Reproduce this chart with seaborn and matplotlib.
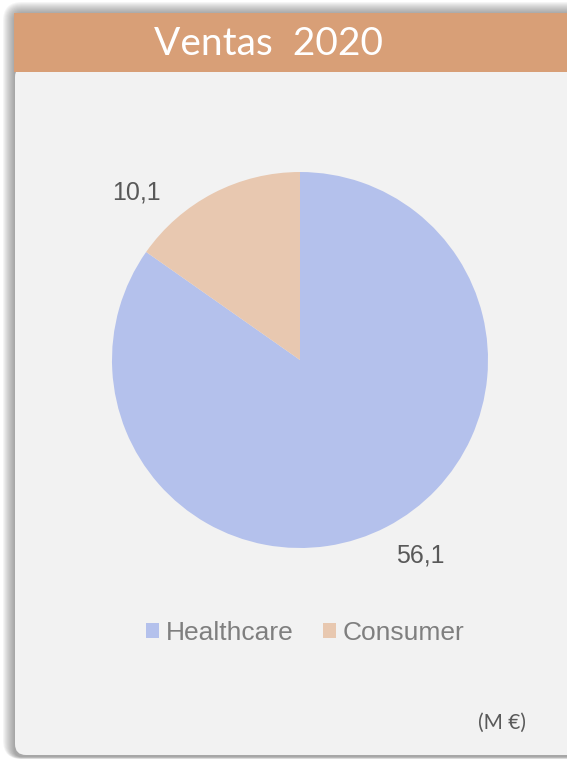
import matplotlib.pyplot as plt
import seaborn as sns
from matplotlib.patches import FancyBboxPatch, Rectangle

categories = ["Healthcare", "Consumer"]
values = [56.1, 10.1]
value_labels = ["56,1", "10,1"]
title = "Ventas  2020"
unit_note = "(M \u20ac)"

sns.set_theme(style="white")
plt.rcParams['font.family'] = ['Liberation Sans', 'DejaVu Sans']
colors = sns.color_palette(["#B4C1EC", "#E8C8B0"])

W, H = 567, 759
fig = plt.figure(figsize=(W / 100, H / 100), dpi=100)
fig.patch.set_facecolor("white")

# background canvas in pixel units
bg = fig.add_axes([0, 0, 1, 1])
bg.set_xlim(0, W)
bg.set_ylim(H, 0)
bg.axis("off")

# soft shadow round the card
for i in range(12):
    bg.add_patch(FancyBboxPatch((14 - i, 13 - i), 620, 744 + 1.2 * i,
                                boxstyle="round,pad=0,rounding_size=%d" % (8 + i),
                                facecolor="#555555", edgecolor="none", alpha=0.055))
bg.add_patch(FancyBboxPatch((15, 66), 620, 689,
                            boxstyle="round,pad=0,rounding_size=11",
                            facecolor="#F2F2F2", edgecolor="none"))
bg.add_patch(Rectangle((14, 13), 600, 59, facecolor="#D89F77", edgecolor="none"))
bg.text(269, 44, title, ha="center", va="center", color="white",
        fontsize=28, family=["Lato", "DejaVu Sans"])
bg.text(502, 723, unit_note, ha="center", va="center", color="#595959",
        fontsize=15, family=["Lato", "DejaVu Sans"])

# pie
r = 188
cx, cy = 300, 360
ax = fig.add_axes([(cx - r) / W, 1 - (cy + r) / H, 2 * r / W, 2 * r / H])
wedges, texts = ax.pie(values, labels=value_labels, colors=colors, startangle=90,
                       counterclock=False, labeldistance=1.25,
                       wedgeprops=dict(linewidth=0),
                       textprops=dict(fontsize=18, color="#595959"))
ax.set_xlim(-1, 1)
ax.set_ylim(-1, 1)
ax.set_aspect("equal")
ax.axis("off")
# best-fit label spots as in the original
texts[0].set_position((0.64, -1.04))
texts[1].set_position((-0.87, 0.89))
for t in texts:
    t.set_ha("center")
    t.set_va("center")

fig.legend(wedges, categories, loc="center", bbox_to_anchor=(305 / W, 1 - 633 / H),
           ncol=2, frameon=False, fontsize=19, labelcolor="#7F7F7F",
           handlelength=0.5, handleheight=0.5, handletextpad=0.25,
           columnspacing=1.1)

fig.savefig("out.png", dpi=100)
